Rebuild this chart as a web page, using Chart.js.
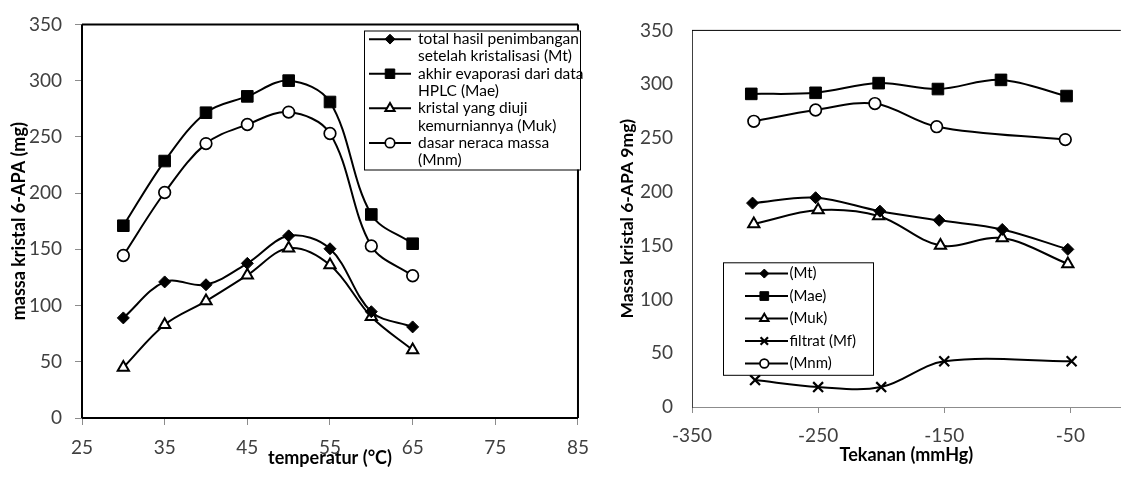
<!DOCTYPE html>
<html>
<head>
<meta charset="utf-8">
<script src="https://cdn.jsdelivr.net/npm/chart.js@4/dist/chart.umd.min.js"></script>
<style>
 body{margin:0;background:#fff;overflow:hidden}
 .box{position:absolute;top:0;height:477px}
</style>
</head>
<body>
<div class="box" style="left:0;width:600px"><canvas id="tempChart"></canvas></div>
<div class="box" style="left:600px;width:530px"><canvas id="presChart"></canvas></div>
<script>
// left chart: temperature
const tempX=[30,35,40,45,50,55,60,65];
const tempMt=[89,121,118.5,137.5,162,150.5,94.5,81];
const tempMae=[171,228.5,271.5,286,300,281,181,155];
const tempMuk=[45,83,104,127,151,136,90,60.5];
const tempMnm=[144.5,200.5,244,261,272,253,153,126.5];
const tempXTicks=[25,35,45,55,65,75,85];
const massYTicks=[0,50,100,150,200,250,300,350];
const legendTemp=[['total hasil penimbangan','setelah kristalisasi (Mt)'],['akhir evaporasi dari data','HPLC (Mae)'],['kristal yang diuji','kemurniannya (Muk)'],['dasar neraca massa','(Mnm)']];

// right chart: pressure
const presMtX=[-302,-252,-201,-154,-104,-52];
const presMt=[189.5,194.5,182,173.5,165,146.5];
const presMaeX=[-303,-252,-202,-155,-105,-53];
const presMae=[291,292,301,295.5,304,289];
const presMukX=[-301,-250,-202,-153,-104,-52];
const presMuk=[170,183,177.5,150,157,133];
const presMfX=[-300,-250,-200,-150,-49];
const presMf=[25,18.5,18.5,42.5,42.5];
const presMnmX=[-301,-252,-205,-156,-54];
const presMnm=[265.5,276,282,260.5,248.5];
const presXTicks=[-350,-250,-150,-50];
const legendPres=[['(Mt)'],['(Mae)'],['(Muk)'],['filtrat (Mf)'],['(Mnm)']];

Chart.defaults.font.family='Lato, "Open Sans", sans-serif';
Chart.defaults.color='#404040';

const pts=(xs,ys)=>xs.map((x,i)=>({x:x,y:ys[i]}));
const marks={
 Mt:{pointStyle:'rectRot',pointRadius:6,pointBackgroundColor:'#000',pointBorderColor:'#000',pointBorderWidth:1},
 Mae:{pointStyle:'rect',pointRadius:8.2,pointBackgroundColor:'#000',pointBorderColor:'#000',pointBorderWidth:1},
 Muk:{pointStyle:'triangle',pointRadius:6.5,pointBackgroundColor:'#fff',pointBorderColor:'#000',pointBorderWidth:2},
 Mf:{pointStyle:'crossRot',pointRadius:7,pointBackgroundColor:'#000',pointBorderColor:'#000',pointBorderWidth:2.2},
 Mnm:{pointStyle:'circle',pointRadius:5.8,pointBackgroundColor:'#fff',pointBorderColor:'#000',pointBorderWidth:1.7}
};
function ds(key,lines,data){
 return Object.assign({label:lines.join(' '),lines:lines,data:data,borderColor:'#000',borderWidth:2,tension:0.35,fill:false},marks[key]);
}

// frame round the plot area
const frame={
 id:'frame',
 afterDraw(chart,args,o){
  const c=chart.ctx,a=chart.chartArea;
  c.save();c.lineWidth=o.width;c.strokeStyle=o.color;
  c.beginPath();
  if(o.sides.includes('t')){c.moveTo(a.left,a.top);c.lineTo(a.right,a.top);}
  if(o.sides.includes('r')){c.moveTo(a.right,a.top);c.lineTo(a.right,a.bottom);}
  if(o.sides.includes('b')){c.moveTo(a.left,a.bottom);c.lineTo(a.right,a.bottom);}
  if(o.sides.includes('l')){c.moveTo(a.left,a.top);c.lineTo(a.left,a.bottom);}
  c.stroke();c.restore();
 }
};

// boxed legend with multi-line labels
const boxLegend={
 id:'boxLegend',
 afterDraw(chart,args,o){
  const c=chart.ctx;
  c.save();
  c.fillStyle='#fff';c.fillRect(o.x,o.y,o.w,o.h);
  c.strokeStyle='#000';c.lineWidth=1;c.strokeRect(o.x+.5,o.y+.5,o.w,o.h);
  c.font=o.font;c.textBaseline='middle';
  let row=0;
  chart.data.datasets.forEach(d=>{
   const y=o.y+o.lh*(row+.5);
   c.strokeStyle='#000';c.lineWidth=2;
   c.beginPath();c.moveTo(o.x0,y);c.lineTo(o.x1,y);c.stroke();
   c.fillStyle=d.pointBackgroundColor;c.strokeStyle=d.pointBorderColor;c.lineWidth=d.pointBorderWidth;
   Chart.helpers.drawPoint(c,{pointStyle:d.pointStyle,radius:d.pointRadius*o.scale,rotation:0,borderWidth:d.pointBorderWidth},o.xm,y);
   c.fillStyle='#000';
   d.lines.forEach(t=>{c.fillText(t,o.xt,o.y+o.lh*(row+.5));row++;});
  });
  c.restore();
 }
};

const setTicks=list=>s=>{s.ticks=list.map(v=>({value:v}));};

new Chart(document.getElementById('tempChart'),{
 type:'line',
 data:{datasets:[
  ds('Mt',legendTemp[0],pts(tempX,tempMt)),
  ds('Mae',legendTemp[1],pts(tempX,tempMae)),
  ds('Muk',legendTemp[2],pts(tempX,tempMuk)),
  ds('Mnm',legendTemp[3],pts(tempX,tempMnm))
 ]},
 options:{
  responsive:true,maintainAspectRatio:false,animation:false,
  layout:{padding:{top:21,right:14,left:0,bottom:0}},
  plugins:{legend:{display:false},tooltip:{enabled:false},
   frame:{width:2,color:'#000',sides:'trbl'},
   boxLegend:{x:364,y:30.5,w:216,h:139,lh:17.3,x0:369,x1:411,xm:390,xt:418,scale:0.82,font:'15.5px Lato, "Open Sans", sans-serif'}},
  scales:{
   x:{type:'linear',min:25,max:85,afterBuildTicks:setTicks(tempXTicks),afterFit:s=>{s.height=59;},
    ticks:{padding:11,font:{size:19}},
    grid:{drawOnChartArea:false,tickLength:7,tickColor:'#8c8c8c'},border:{display:false},
    title:{display:true,text:'temperatur (°C)',color:'#000',font:{size:18,weight:'bold'},padding:{top:0,bottom:8}}},
   y:{min:0,max:350,afterBuildTicks:setTicks(massYTicks),afterFit:s=>{s.width=82;},
    ticks:{padding:13,font:{size:19}},
    grid:{drawOnChartArea:false,tickLength:7,tickColor:'#8c8c8c'},border:{display:false},
    title:{display:true,text:'massa kristal 6-APA (mg)',color:'#000',font:{size:18,weight:'bold'},padding:{top:8,bottom:0}}}
  }
 },
 plugins:[frame,boxLegend]
});

new Chart(document.getElementById('presChart'),{
 type:'line',
 data:{datasets:[
  ds('Mt',legendPres[0],pts(presMtX,presMt)),
  ds('Mae',legendPres[1],pts(presMaeX,presMae)),
  ds('Muk',legendPres[2],pts(presMukX,presMuk)),
  ds('Mf',legendPres[3],pts(presMfX,presMf)),
  ds('Mnm',legendPres[4],pts(presMnmX,presMnm))
 ]},
 options:{
  responsive:true,maintainAspectRatio:false,animation:false,
  layout:{padding:{top:29,right:0,left:0,bottom:0}},
  plugins:{legend:{display:false},tooltip:{enabled:false},
   frame:{width:1,color:'#000',sides:'t'},
   boxLegend:{x:123,y:262.3,w:150,h:112.5,lh:22.5,x0:145,x1:188,xm:164.3,xt:189.5,scale:0.75,font:'15px Lato, "Open Sans", sans-serif'}},
  scales:{
   x:{type:'linear',min:-350,max:-10,afterBuildTicks:setTicks(presXTicks),afterFit:s=>{s.height=70;},
    ticks:{padding:11,font:{size:19}},
    grid:{drawOnChartArea:false,tickLength:6,tickColor:'#8c8c8c'},border:{color:'#8c8c8c',width:1},
    title:{display:true,text:'Tekanan (mmHg)',color:'#000',font:{size:18,weight:'bold'},padding:{top:0,bottom:11}}},
   y:{min:0,max:350,afterBuildTicks:setTicks(massYTicks),afterFit:s=>{s.width=92;},
    ticks:{padding:19,font:{size:19}},
    grid:{drawOnChartArea:false,drawTicks:false},border:{color:'#404040',width:1},
    title:{display:true,text:'Massa kristal 6-APA 9mg)',color:'#000',font:{size:17.5,weight:'bold'},padding:{top:17,bottom:0}}}
  }
 },
 plugins:[frame,boxLegend]
});
</script>
</body>
</html>
